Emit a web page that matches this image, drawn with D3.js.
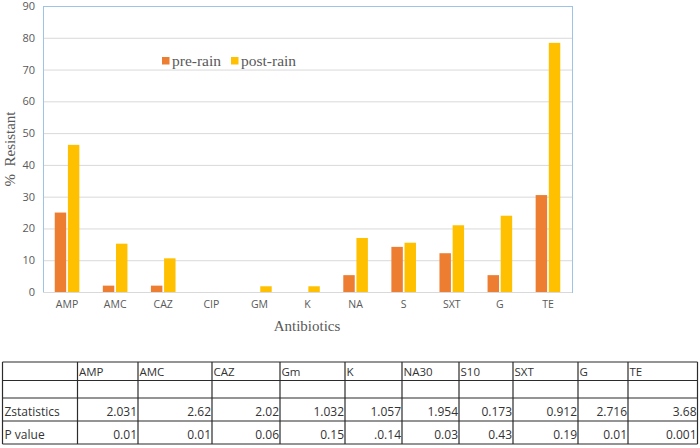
<!DOCTYPE html>
<html>
<head>
<meta charset="utf-8">
<script src="https://cdn.jsdelivr.net/npm/d3@7/dist/d3.min.js"></script>
<style>
  html, body { margin: 0; padding: 0; background: #fff; }
  svg { display: block; }
</style>
</head>
<body>
<svg id="chart" width="700" height="448"></svg>
<script>
// ---------- data ----------
const categories = ["AMP", "AMC", "CAZ", "CIP", "GM", "K", "NA", "S", "SXT", "G", "TE"];
const seriesNames = ["pre-rain", "post-rain"];
const preRain  = [25, 2, 2, 0, 0, 0, 5.3, 14.2, 12.2, 5.3, 30.5];
const postRain = [46.3, 15.2, 10.6, 0, 1.8, 1.8, 17, 15.5, 21, 24, 78.4];
const yTicks = [0, 10, 20, 30, 40, 50, 60, 70, 80, 90];

const tableHeaders = ["", "AMP", "AMC", "CAZ", "Gm", "K", "NA30", "S10", "SXT", "G", "TE"];
const zRowLabel = "Zstatistics";
const zStatistics = ["2.031", "2.62", "2.02", "1.032", "1.057", "1.954", "0.173", "0.912", "2.716", "3.68"];
const pRowLabel = "P value";
const pValues = ["0.01", "0.01", "0.06", "0.15", ".0.14", "0.03", "0.43", "0.19", "0.01", "0.001"];

// ---------- layout ----------
const plot = { left: 43, right: 572, top: 6, bottom: 292 };
const colors = { "pre-rain": "#ED7D31", "post-rain": "#FFC000" };
const tableCols = [2.5, 77.5, 138, 212, 280, 345, 402, 459, 513, 578, 628, 697.5];
const tableRows = [362, 380.5, 398, 421, 444];

const svg = d3.select("#chart");

const x0 = d3.scaleBand().domain(categories).range([plot.left, plot.right]).paddingInner(0).paddingOuter(0);
const bw = x0.bandwidth();
const x1 = d3.scaleBand().domain(seriesNames).range([bw / 2 - 12.3, bw / 2 + 12.3]).paddingInner(0.13);
const y = d3.scaleLinear().domain([0, 90]).range([plot.bottom, plot.top]);

// gridlines
svg.append("g")
  .selectAll("line")
  .data(yTicks.filter(d => d > 0 && d < 90))
  .join("line")
  .attr("x1", plot.left).attr("x2", plot.right)
  .attr("y1", d => y(d) + 0.5).attr("y2", d => y(d) + 0.5)
  .attr("stroke", "#d9d9d9").attr("stroke-width", 1);

// plot border (blue)
svg.append("rect")
  .attr("x", plot.left + 0.5).attr("y", plot.top + 0.5)
  .attr("width", plot.right - plot.left).attr("height", plot.bottom - plot.top)
  .attr("fill", "none").attr("stroke", "#9DC3E6").attr("stroke-width", 1);

// bars
const data = categories.map((c, i) => ({ cat: c, vals: [
  { s: "pre-rain", v: preRain[i] }, { s: "post-rain", v: postRain[i] }] }));

const groups = svg.append("g").selectAll("g")
  .data(data).join("g")
  .attr("transform", d => `translate(${x0(d.cat)},0)`);

groups.selectAll("rect")
  .data(d => d.vals.filter(e => e.v > 0))
  .join("rect")
  .attr("x", d => x1(d.s))
  .attr("width", x1.bandwidth())
  .attr("y", d => y(d.v))
  .attr("height", d => y(0) - y(d.v))
  .attr("fill", d => colors[d.s]);

// zero axis line
svg.append("line")
  .attr("x1", plot.left).attr("x2", plot.right)
  .attr("y1", y(0) + 0.5).attr("y2", y(0) + 0.5)
  .attr("stroke", "#d9d9d9");

// y axis labels
const yAxis = d3.axisLeft(y).tickValues(yTicks).tickSize(0).tickPadding(8);
const gy = svg.append("g").attr("transform", `translate(${plot.left},0)`).call(yAxis);
gy.select(".domain").remove();
gy.selectAll("text").attr("fill", "#595959").style("font-family", "'Open Sans', sans-serif").style("font-size", "11px");

// x axis labels
const xAxis = d3.axisBottom(x0).tickSize(0).tickPadding(9);
const gx = svg.append("g").attr("transform", `translate(0,${plot.bottom})`).call(xAxis);
gx.select(".domain").remove();
gx.selectAll("text").attr("fill", "#595959").style("font-family", "'Open Sans', sans-serif").style("font-size", "10.5px");

// axis titles
svg.append("text")
  .attr("transform", `translate(15,149) rotate(-90)`)
  .attr("text-anchor", "middle")
  .style("font-family", "'Liberation Serif', 'Times New Roman', serif")
  .style("font-size", "15px").attr("fill", "#595959")
  .attr("xml:space", "preserve")
  .text("%  Resistant");

svg.append("text")
  .attr("x", 307).attr("y", 331)
  .attr("text-anchor", "middle")
  .style("font-family", "'Liberation Serif', 'Times New Roman', serif")
  .style("font-size", "15px").attr("fill", "#595959")
  .text("Antibiotics");

// legend
const legendPos = [162, 231];
const lg = svg.append("g").selectAll("g").data(seriesNames).join("g")
  .attr("transform", (d, i) => `translate(${legendPos[i]},57)`);
lg.append("rect").attr("width", 7.5).attr("height", 7.5).attr("fill", d => colors[d]);
lg.append("text").attr("x", 10).attr("y", 9)
  .style("font-family", "'Liberation Serif', 'Times New Roman', serif")
  .style("font-size", "15.5px").attr("fill", "#595959")
  .text(d => d);

// ---------- table ----------
const tbl = svg.append("g");
const tblFont = "'Open Sans', sans-serif";
// horizontal lines
tbl.selectAll("line.h").data(tableRows).join("line")
  .attr("class", "h")
  .attr("x1", tableCols[0]).attr("x2", tableCols[tableCols.length - 1])
  .attr("y1", d => d).attr("y2", d => d)
  .attr("stroke", "#2b2b2b").attr("stroke-width", 1.2);
// vertical lines
tbl.selectAll("line.v").data(tableCols).join("line")
  .attr("class", "v")
  .attr("x1", d => d).attr("x2", d => d)
  .attr("y1", tableRows[0]).attr("y2", tableRows[tableRows.length - 1])
  .attr("stroke", "#2b2b2b").attr("stroke-width", 1.2);

// header
tbl.selectAll("text.hd").data(tableHeaders).join("text")
  .attr("class", "hd")
  .attr("x", (d, i) => tableCols[i] + 1.5)
  .attr("y", tableRows[1] - 5)
  .style("font-family", tblFont).style("font-size", "11.5px").attr("fill", "#333")
  .text(d => d);

function numRow(label, vals, rowIdx) {
  tbl.append("text")
    .attr("x", tableCols[0] + 2).attr("y", tableRows[rowIdx + 1] - 5)
    .style("font-family", tblFont).style("font-size", "12px").attr("fill", "#333")
    .text(label);
  tbl.selectAll("text.r" + rowIdx).data(vals).join("text")
    .attr("class", "r" + rowIdx)
    .attr("x", (d, i) => tableCols[i + 2] - 1)
    .attr("y", tableRows[rowIdx + 1] - 5)
    .attr("text-anchor", "end")
    .style("font-family", tblFont).style("font-size", "12px").attr("fill", "#333")
    .text(d => d);
}
numRow(zRowLabel, zStatistics, 2);
numRow(pRowLabel, pValues, 3);
</script>
</body>
</html>
